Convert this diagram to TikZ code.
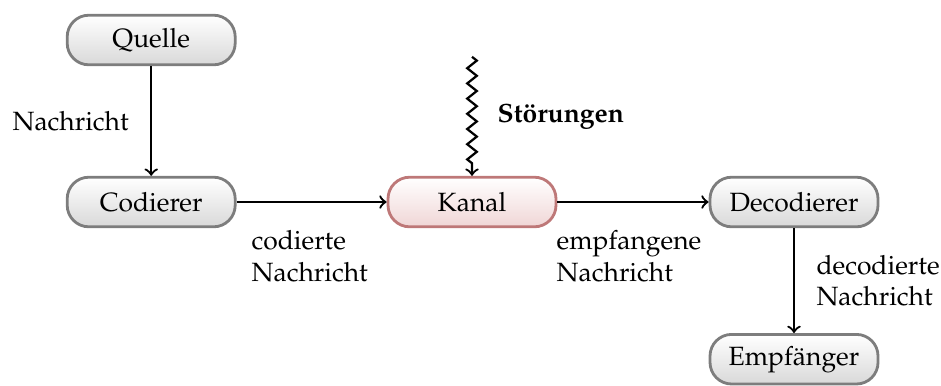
\documentclass[tikz,border=0pt]{standalone}
\usepackage[T1]{fontenc}
\usepackage{mathpazo}
\usetikzlibrary{decorations.pathmorphing}

\definecolor{boxgray}{RGB}{125,125,125}
\definecolor{kanalrand}{RGB}{190,120,120}
\definecolor{kanalfill}{RGB}{240,214,214}

\begin{document}
\begin{tikzpicture}[
		every node/.style={font=\fontsize{9.4}{11.3}\selectfont},
		box/.style={minimum width=2.1cm, minimum height=0.62cm, rounded corners=0.27cm,
			draw=boxgray, line width=1pt, top color=white, bottom color=gray!30},
		kanalbox/.style={box, draw=kanalrand, bottom color=kanalfill},
		pfeil/.style={->, thick},
		stoerung/.style={->, thick, decorate,
			decoration={zigzag, segment length=1.9mm, amplitude=0.6mm, post length=1.2mm}}]
		\useasboundingbox (0,0) rectangle (11.7625,-4.8125);

		\draw (1.89,-0.5) node[box] (quelle) {Quelle};
		\draw (1.89,-2.525) node[box] (codierer) {Codierer};
		\draw (5.9,-2.525) node[kanalbox] (kanal) {Kanal};
		\draw (9.925,-2.525) node[box] (decodierer) {Decodierer};
		\draw (9.925,-4.49) node[box] (empfaenger) {Empf\"anger};

		\coordinate (stoerquelle) at (5.9,-0.71);

		\draw [pfeil] (quelle) -- node[midway, left, xshift=-1.5mm] {Nachricht} (codierer);
		\draw [pfeil] (codierer) -- node[pos=0.03, below right, yshift=-2.2mm, align=left] {codierte\\Nachricht} (kanal);
		\draw [pfeil] (kanal) -- node[pos=0, below right, xshift=-1.4mm, yshift=-2.2mm, align=left] {empfangene\\Nachricht} (decodierer);
		\draw [pfeil] (decodierer) -- node[midway, right, xshift=1.5mm, align=left] {decodierte\\Nachricht} (empfaenger);
		\draw [stoerung] (stoerquelle) -- node[midway, right, xshift=1.9mm] {\textbf{St\"orungen}} (kanal);
	\end{tikzpicture}
\end{document}
